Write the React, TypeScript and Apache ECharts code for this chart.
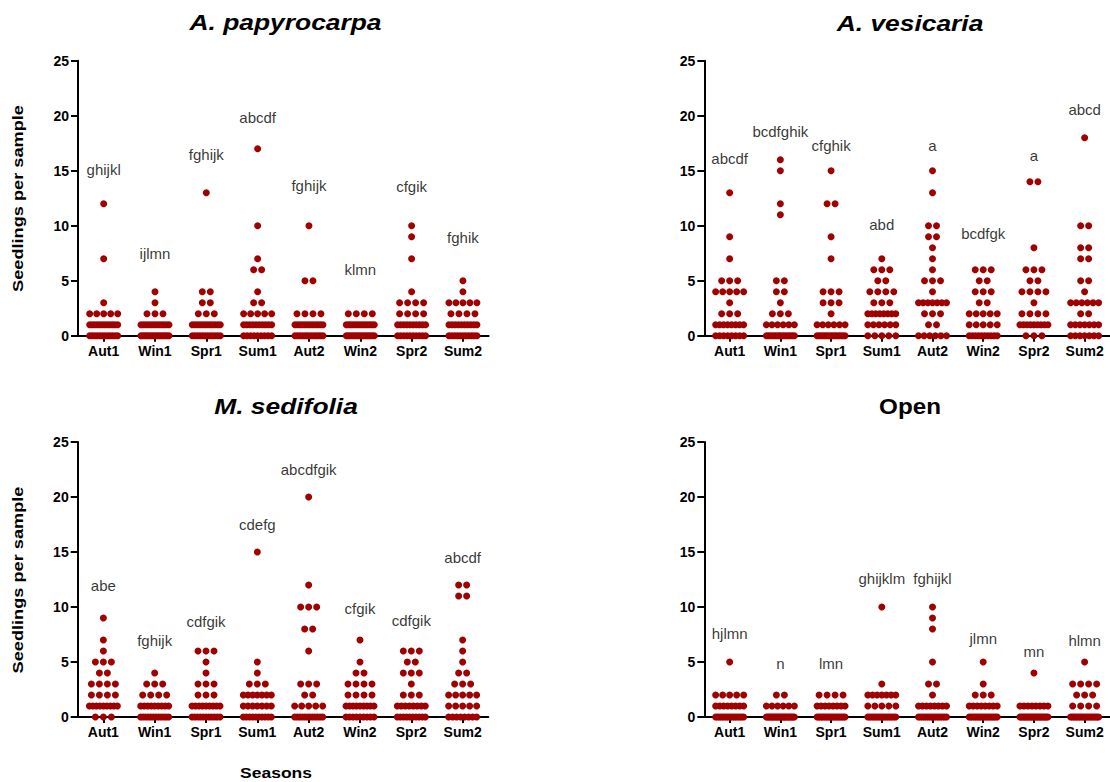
import React, { useEffect, useRef } from 'react';
import * as echarts from 'echarts';

// ---------- data ----------
const categories = ['Aut1', 'Win1', 'Spr1', 'Sum1', 'Aut2', 'Win2', 'Spr2', 'Sum2'];
const panelTitles = ['A. papyrocarpa', 'A. vesicaria', 'M. sedifolia', 'Open'];

// per season: [seedlings per sample, number of samples with that value]
const papyrocarpa: number[][][] = [
  [[0, 12], [1, 12], [2, 5], [3, 1], [7, 1], [12, 1]],
  [[0, 15], [1, 12], [2, 3], [3, 1], [4, 1]],
  [[0, 12], [1, 12], [2, 3], [3, 2], [4, 2], [13, 1]],
  [[0, 9], [1, 10], [2, 5], [3, 2], [4, 1], [6, 2], [7, 1], [10, 1], [17, 1]],
  [[0, 13], [1, 12], [2, 4], [5, 2], [10, 1]],
  [[0, 15], [1, 13], [2, 4]],
  [[0, 10], [1, 10], [2, 4], [3, 4], [4, 1], [7, 1], [9, 1], [10, 1]],
  [[0, 11], [1, 10], [2, 4], [3, 5], [4, 1], [5, 1]],
];
const vesicaria: number[][][] = [
  [[0, 8], [1, 8], [2, 3], [3, 1], [4, 5], [5, 3], [7, 1], [9, 1], [13, 1]],
  [[0, 14], [1, 6], [2, 3], [3, 1], [4, 2], [5, 2], [11, 1], [12, 1], [15, 1], [16, 1]],
  [[0, 14], [1, 6], [2, 1], [3, 3], [4, 3], [7, 1], [9, 1], [12, 2], [15, 1]],
  [[0, 5], [1, 6], [2, 8], [3, 3], [4, 4], [5, 2], [6, 3], [7, 1]],
  [[0, 6], [1, 2], [2, 3], [3, 7], [4, 1], [5, 3], [6, 1], [7, 1], [8, 1], [9, 2], [10, 2], [13, 1], [15, 1]],
  [[0, 10], [1, 5], [2, 5], [3, 2], [4, 3], [5, 2], [6, 3]],
  [[0, 3], [1, 9], [2, 4], [3, 1], [4, 4], [5, 2], [6, 3], [8, 1], [14, 2]],
  [[0, 7], [1, 7], [2, 2], [3, 6], [4, 1], [5, 2], [7, 2], [8, 2], [10, 2], [18, 1]],
];
const sedifolia: number[][][] = [
  [[0, 3], [1, 9], [2, 4], [3, 4], [4, 2], [5, 3], [6, 1], [7, 1], [9, 1]],
  [[0, 12], [1, 9], [2, 4], [3, 3], [4, 1]],
  [[0, 11], [1, 9], [2, 3], [3, 3], [4, 1], [5, 1], [6, 3]],
  [[0, 10], [1, 7], [2, 7], [3, 3], [4, 1], [5, 1], [15, 1]],
  [[0, 12], [1, 5], [2, 2], [3, 3], [6, 1], [8, 2], [10, 3], [12, 1], [20, 1]],
  [[0, 9], [1, 9], [2, 4], [3, 4], [4, 2], [5, 1], [7, 1]],
  [[0, 10], [1, 8], [2, 3], [3, 1], [4, 3], [5, 2], [6, 3]],
  [[0, 8], [1, 5], [2, 5], [3, 3], [4, 2], [5, 1], [6, 1], [7, 1], [11, 2], [12, 2]],
];
const openSite: number[][][] = [
  [[0, 16], [1, 8], [2, 5], [5, 1]],
  [[0, 22], [1, 6], [2, 2]],
  [[0, 18], [1, 8], [2, 4]],
  [[0, 16], [1, 5], [2, 7], [3, 1], [10, 1]],
  [[0, 15], [1, 8], [2, 1], [3, 2], [5, 1], [8, 1], [9, 1], [10, 1]],
  [[0, 17], [1, 8], [2, 3], [3, 1], [5, 1]],
  [[0, 21], [1, 8], [4, 1]],
  [[0, 18], [1, 4], [2, 3], [3, 4], [5, 1]],
];

// significance letters and the height (in axis units) at which they sit
const papyLetters = ['ghijkl', 'ijlmn', 'fghijk', 'abcdf', 'fghijk', 'klmn', 'cfgik', 'fghik'];
const papyLetterY = [15.1, 7.5, 16.5, 19.8, 13.7, 6.0, 13.6, 8.9];
const vesiLetters = ['abcdf', 'bcdfghik', 'cfghik', 'abd', 'a', 'bcdfgk', 'a', 'abcd'];
const vesiLetterY = [16.1, 18.6, 17.3, 10.1, 17.3, 9.3, 16.4, 20.6];
const sediLetters = ['abe', 'fghijk', 'cdfgik', 'cdefg', 'abcdfgik', 'cfgik', 'cdfgik', 'abcdf'];
const sediLetterY = [12.0, 7.0, 8.7, 17.5, 22.5, 9.9, 8.8, 14.5];
const openLetters = ['hjlmn', 'n', 'lmn', 'ghijklm', 'fghijkl', 'jlmn', 'mn', 'hlmn'];
const openLetterY = [7.6, 4.9, 4.85, 12.6, 12.6, 7.15, 6.0, 7.0];

const yMin = 0;
const yMax = 25;
const yInterval = 5;

// ---------- styling ----------
const FONT = "'Liberation Sans', Arial, sans-serif";
const DOT_COLOR = '#a00000';

function buildDots(groups: number[][][]) {
  const out: any[] = [];
  groups.forEach((g, ci) => {
    g.forEach(([v, n]) => {
      const step = n > 1 ? Math.min(8, 28 / (n - 1)) : 0;
      for (let k = 0; k < n; k++) {
        out.push({ value: [ci, v], symbolOffset: [(k - (n - 1) / 2) * step, 0] });
      }
    });
  });
  return out;
}

export default function App() {
  const ref = useRef<HTMLDivElement>(null);

  useEffect(() => {
    if (!ref.current) return;
    const chart = echarts.init(ref.current, undefined, { renderer: 'svg' });

    const panels = [
      { data: papyrocarpa, letters: papyLetters, ly: papyLetterY },
      { data: vesicaria, letters: vesiLetters, ly: vesiLetterY },
      { data: sedifolia, letters: sediLetters, ly: sediLetterY },
      { data: openSite, letters: openLetters, ly: openLetterY },
    ];

    const grids = [
      { left: 78, top: 60.7, width: 410.6, height: 275 },
      { left: 704.3, top: 60.7, width: 410.6, height: 275 },
      { left: 77.7, top: 442, width: 410.6, height: 275 },
      { left: 704.3, top: 442, width: 410.6, height: 275 },
    ];

    const xAxis = grids.map((_, i) => ({
      type: 'category',
      gridIndex: i,
      data: categories,
      boundaryGap: true,
      axisLine: { show: true, lineStyle: { color: '#000', width: 2 } },
      axisTick: { show: true, alignWithLabel: true, length: 6, lineStyle: { color: '#000', width: 2 } },
      axisLabel: { interval: 0, color: '#000', fontWeight: 'bold', fontSize: 14, fontFamily: FONT, margin: 8 },
      splitLine: { show: false },
    }));

    const yAxis = grids.map((_, i) => ({
      type: 'value',
      gridIndex: i,
      min: yMin,
      max: yMax,
      interval: yInterval,
      axisLine: { show: true, lineStyle: { color: '#000', width: 2 } },
      axisTick: { show: true, length: 7, lineStyle: { color: '#000', width: 2 } },
      axisLabel: { color: '#000', fontWeight: 'bold', fontSize: 14, fontFamily: FONT, margin: 9 },
      splitLine: { show: false },
    }));

    const series: any[] = [];
    panels.forEach((p, i) => {
      series.push({
        type: 'scatter',
        xAxisIndex: i,
        yAxisIndex: i,
        data: buildDots(p.data),
        symbol: 'circle',
        symbolSize: 7,
        itemStyle: { color: DOT_COLOR, opacity: 1 },
        clip: false,
        z: 3,
      });
      series.push({
        type: 'scatter',
        xAxisIndex: i,
        yAxisIndex: i,
        data: p.letters.map((t, ci) => ({ value: [ci, p.ly[ci]], name: t })),
        symbolSize: 1,
        itemStyle: { color: 'transparent' },
        label: {
          show: true,
          position: 'inside',
          formatter: '{b}',
          color: '#000',
          fontSize: 15,
          fontFamily: FONT,
        },
        silent: true,
        clip: false,
        z: 4,
      });
    });

    const titlePos = [
      { x: 285.5, y: 22.5, italic: true, sx: 1.2 },
      { x: 910, y: 23.5, italic: true, sx: 1.2 },
      { x: 286, y: 406, italic: true, sx: 1.2 },
      { x: 910, y: 406, italic: false, sx: 1.1 },
    ];

    const graphic: any[] = panelTitles.map((t, i) => ({
      type: 'text',
      x: titlePos[i].x,
      y: titlePos[i].y,
      scaleX: titlePos[i].sx,
      style: {
        text: t,
        font: `${titlePos[i].italic ? 'italic ' : ''}bold 22px ${FONT}`,
        fill: '#000',
        align: 'center',
        verticalAlign: 'middle',
        textAlign: 'center',
        textVerticalAlign: 'middle',
      },
    }));
    [198.5, 580].forEach((cy) => {
      graphic.push({
        type: 'text',
        x: 18,
        y: cy,
        rotation: Math.PI / 2,
        scaleX: 1.3,
        style: {
          text: 'Seedlings per sample',
          font: `bold 14px ${FONT}`,
          fill: '#000',
          align: 'center',
          verticalAlign: 'middle',
          textAlign: 'center',
          textVerticalAlign: 'middle',
        },
      });
    });
    graphic.push({
      type: 'text',
      x: 276,
      y: 773.5,
      scaleX: 1.25,
      style: {
        text: 'Seasons',
        font: `bold 14px ${FONT}`,
        fill: '#000',
        align: 'center',
        verticalAlign: 'middle',
        textAlign: 'center',
        textVerticalAlign: 'middle',
      },
    });

    chart.setOption({
      animation: false,
      backgroundColor: '#fff',
      grid: grids,
      xAxis,
      yAxis,
      series,
      graphic,
    });

    return () => chart.dispose();
  }, []);

  return (
    <div
      ref={ref}
      style={{ position: 'fixed', left: 0, top: 0, width: 1110, height: 782, background: '#fff' }}
    />
  );
}
